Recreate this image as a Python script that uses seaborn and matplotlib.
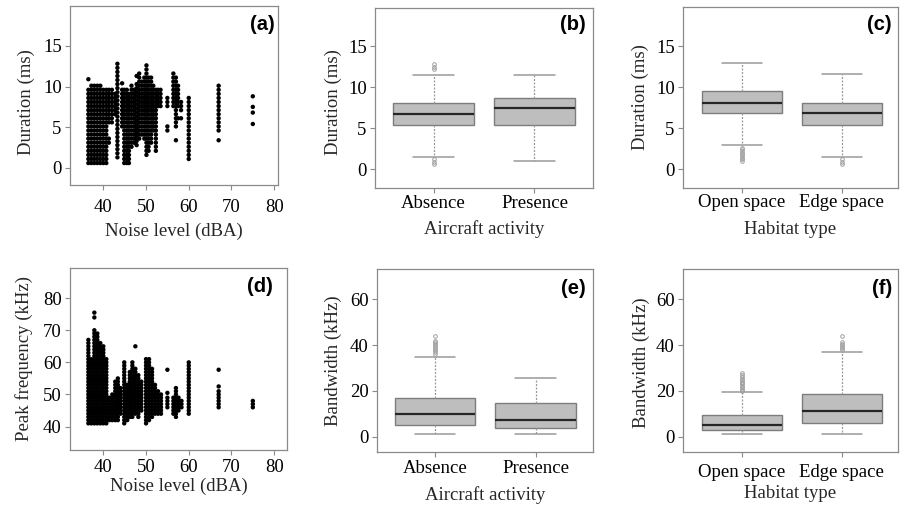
import numpy as np
import pandas as pd
import matplotlib
matplotlib.use("Agg")
import matplotlib.pyplot as plt
import seaborn as sns

# ---------------- data ----------------
# (a) Duration (ms) vs noise level (dBA): one list of durations per noise level
duration_by_noise = {
    36.5: [0.6, 1.1, 1.6, 2.1, 2.6, 3.1, 3.6, 4.1, 4.6, 5.1, 5.6, 6.1, 6.6, 7.1, 7.6, 8.1, 8.6, 9.1, 9.6, 10.9],
    37.2: [0.6, 1.1, 1.6, 2.1, 2.6, 3.1, 3.6, 4.1, 4.6, 5.1, 5.6, 6.1, 6.6, 7.1, 7.6, 8.1, 8.6, 9.1, 9.6, 10.1],
    37.9: [0.6, 1.1, 1.6, 2.1, 2.6, 3.1, 3.6, 4.1, 4.6, 5.1, 5.6, 6.1, 6.6, 7.1, 7.6, 8.1, 8.6, 9.1, 9.6, 10.1],
    38.6: [0.6, 1.1, 1.6, 2.1, 2.6, 3.1, 3.6, 4.1, 4.6, 5.1, 5.6, 6.1, 6.6, 7.1, 7.6, 8.1, 8.6, 9.1, 9.6, 10.1],
    39.3: [0.6, 1.1, 1.6, 2.1, 2.6, 3.1, 3.6, 4.1, 4.6, 5.1, 5.6, 6.1, 6.6, 7.1, 7.6, 8.1, 8.6, 9.1, 9.6, 10.1],
    40.0: [0.6, 1.1, 1.6, 2.1, 2.6, 3.1, 3.6, 4.1, 4.6, 5.1, 5.6, 6.1, 6.6, 7.1, 7.6, 8.1, 8.6, 9.1, 9.6],
    40.7: [0.6, 1.1, 1.6, 2.1, 2.6, 3.1, 3.6, 4.1, 4.6, 5.1, 5.6, 6.1, 6.6, 7.1, 7.6, 8.1, 8.6, 9.1, 9.6],
    41.3: [3.1, 3.6, 5.6, 6.1, 6.6, 7.1, 7.6, 8.1, 8.6, 9.1, 9.6],
    42.0: [5.6, 6.1, 6.6, 7.1, 7.6, 8.1, 8.6, 9.1, 9.6],
    42.7: [6.6, 7.1, 7.6, 8.1, 8.6, 9.1],
    43.3: [1.3, 1.8, 2.3, 2.8, 3.3, 3.8, 4.3, 4.8, 5.3, 5.8, 6.3, 6.8, 7.3, 7.8, 8.3, 8.8, 9.3, 9.8,
           10.3, 10.8, 11.3, 11.8, 12.3, 12.8],
    44.4: [5.1, 5.6, 6.1, 6.6, 7.1, 7.6, 8.1, 8.6, 9.1, 9.6, 10.4],
    44.9: [0.6, 1.1, 1.6, 2.1, 2.6, 3.1, 3.6, 4.1, 4.6, 5.1, 5.6, 6.1, 6.6, 7.1, 7.6, 8.1, 8.6, 9.1, 9.6],
    45.5: [0.6, 1.1, 1.6, 2.1, 2.6, 3.1, 3.6, 4.1, 4.6, 5.1, 5.6, 6.1, 6.6, 7.1, 7.6, 8.1, 8.6, 9.1, 9.6],
    46.0: [0.6, 1.1, 1.6, 2.1, 2.6, 3.1, 3.6, 4.1, 4.6, 5.1, 5.6, 6.1, 6.6, 7.1, 7.6, 8.1, 8.6, 9.1],
    46.6: [2.6, 3.1, 3.6, 4.1, 4.6, 5.1, 5.6, 6.1, 6.6, 7.1, 7.6, 8.1, 8.6, 9.1, 9.6, 10.1],
    47.2: [3.1, 3.6, 4.1, 4.6, 5.1, 5.6, 6.1, 6.6, 7.1, 7.6, 8.1, 8.6, 9.1, 9.6],
    47.8: [2.8, 3.3, 3.8, 4.3, 4.8, 5.3, 5.8, 6.3, 6.8, 7.3, 7.8, 8.3, 8.8, 9.3, 9.8, 10.3, 11.3],
    48.4: [3.6, 4.1, 4.6, 5.1, 5.6, 6.1, 6.6, 7.1, 7.6, 8.1, 8.6, 9.1, 9.6, 10.1, 10.6, 11.1, 11.6],
    49.0: [4.1, 4.6, 5.1, 5.6, 6.1, 6.6, 7.1, 7.6, 8.1, 8.6, 9.1, 9.6, 10.1, 10.6],
    49.6: [3.6, 4.1, 4.6, 5.1, 5.6, 6.1, 6.6, 7.1, 7.6, 8.1, 8.6, 9.1, 9.6, 10.1, 10.6, 11.1],
    50.1: [1.6, 2.1, 2.6, 3.1, 3.6, 4.1, 4.6, 5.1, 5.6, 6.1, 6.6, 7.1, 7.6, 8.1, 8.6, 9.1, 9.6, 10.1,
           10.6, 11.1, 11.6, 12.1, 12.6],
    50.6: [2.1, 2.6, 3.1, 3.6, 4.1, 4.6, 5.1, 5.6, 6.1, 6.6, 7.1, 7.6, 8.1, 8.6, 9.1, 9.6, 10.1, 10.6, 11.1],
    51.2: [3.1, 3.6, 4.1, 4.6, 5.1, 5.6, 6.1, 6.6, 7.1, 7.6, 8.1, 8.6, 9.1, 9.6, 10.1, 10.6, 11.1],
    51.7: [4.6, 5.1, 5.6, 6.1, 6.6, 7.1, 7.6, 8.1, 8.6, 9.1, 9.6, 10.1],
    52.3: [2.1, 2.6, 3.1, 3.6, 4.1, 4.6, 5.1, 5.6, 6.1, 6.6, 7.1, 7.6, 8.1, 8.6, 9.1, 9.6],
    52.8: [7.6, 8.1, 8.6, 9.1, 9.6],
    53.4: [7.6, 8.1, 8.6, 9.1, 9.6],
    55.0: [4.6, 5.1, 7.6, 8.1, 8.6],
    56.4: [7.6, 8.1, 8.6, 9.1, 9.6, 10.1, 10.6, 11.1, 11.6],
    57.0: [3.4, 5.1, 5.6, 6.1, 6.6, 7.1, 7.6, 8.1, 8.6, 9.1, 9.6, 10.1, 10.6, 11.1],
    57.5: [6.1, 7.6, 8.1, 8.6, 9.1, 9.6, 10.1],
    58.2: [6.1, 7.1, 7.6, 8.1],
    60.0: [1.1, 1.6, 2.1, 2.6, 3.1, 3.6, 4.1, 4.6, 5.1, 5.6, 6.1, 6.6, 7.1, 7.6, 8.1, 8.6],
    67.0: [3.4, 4.6, 5.1, 5.6, 6.1, 6.6, 7.1, 7.6, 8.1, 8.6, 9.1, 9.6, 10.1],
    75.0: [5.4, 6.8, 7.5, 8.8],
}

# (d) Peak frequency (kHz) vs noise level (dBA)
peakfreq_by_noise = {
    36.5: [41, 42, 43, 44, 45, 46, 47, 48, 49, 50, 51, 52, 53, 54, 55, 56, 57, 58, 59, 60, 61, 62, 63, 64, 65, 66, 67],
    37.2: [41, 42, 43, 44, 45, 46, 47, 48, 49, 50, 51, 52, 53, 54, 55, 56, 57, 58, 59, 60, 61],
    37.9: [41, 42, 43, 44, 45, 46, 47, 48, 49, 50, 51, 52, 53, 54, 55, 56, 57, 58, 59, 60, 61, 62, 63, 64,
           65, 66, 67, 68, 69, 70, 74, 75.5],
    38.6: [41, 42, 43, 44, 45, 46, 47, 48, 49, 50, 51, 52, 53, 54, 55, 56, 57, 58, 59, 60, 61, 62, 63, 64,
           65, 66, 67, 68, 69],
    39.3: [41, 42, 43, 44, 45, 46, 47, 48, 49, 50, 51, 52, 53, 54, 55, 56, 57, 58, 59, 60, 61, 62, 63, 64, 65, 66],
    40.0: [41, 42, 43, 44, 45, 46, 47, 48, 49, 50, 51, 52, 53, 54, 55, 56, 57, 58, 59, 60, 61, 62, 63, 64, 65],
    40.7: [41, 42, 43, 44, 45, 46, 47, 48, 49, 50, 51, 52, 53, 54, 55, 56, 57, 58, 59, 60, 61],
    41.4: [42, 43, 44, 45, 46, 47, 48, 49],
    42.1: [42, 43, 44, 45, 46, 47, 48, 49, 50],
    42.8: [42, 43, 44, 45, 46, 47, 48, 49, 50, 51, 52, 53, 54],
    43.4: [42, 43, 44, 45, 46, 47, 48, 49, 50, 51, 52, 53, 54, 55],
    44.0: [44, 45, 46, 47, 48, 49, 50, 51, 52],
    44.9: [41, 42, 43, 44, 45, 46, 47, 48, 49, 50, 51, 52, 53, 54, 55, 56, 57, 58, 59, 60],
    45.6: [42, 43, 44, 45, 46, 47, 48, 49, 50, 51, 52, 53],
    46.2: [43, 44, 45, 46, 47, 48, 49, 50, 51, 52, 53, 54, 55, 56, 57],
    46.8: [43, 44, 45, 46, 47, 48, 49, 50, 51, 52, 53, 54, 55, 56, 57, 58, 59, 60],
    47.5: [44, 45, 46, 47, 48, 49, 50, 51, 52, 53, 54, 55, 56, 57, 58, 65],
    48.2: [43, 44, 45, 46, 47, 48, 49, 50, 51, 52, 53, 54, 55, 56],
    48.9: [45, 46, 47, 48, 49, 50, 51, 52, 53, 54],
    50.0: [41, 42, 43, 44, 45, 46, 47, 48, 49, 50, 51, 52, 53, 54, 55, 56, 57, 58, 59, 60, 61],
    50.7: [42, 43, 44, 45, 46, 47, 48, 49, 50, 51, 52, 53, 54, 55, 56, 57, 58, 59, 60, 61],
    51.4: [43, 44, 45, 46, 47, 48, 49, 50, 51, 52, 53, 54, 55, 56, 57, 58],
    52.1: [44, 45, 46, 47, 48, 49, 50, 51, 52, 53],
    52.8: [44, 45, 46, 47, 48, 49, 50, 51],
    53.5: [44, 45, 46, 47, 48, 49, 50],
    55.0: [46, 47, 48, 49, 50.5, 57.7],
    56.4: [44, 45, 46, 47, 48, 49],
    57.0: [43, 44, 45, 46, 47, 48, 49, 50, 51, 52],
    57.6: [45, 46, 47, 48, 49],
    58.3: [46, 47, 48],
    60.0: [44, 45, 46, 47, 48, 49, 50, 51, 52, 53, 54, 55, 56, 57, 58, 59, 60],
    67.0: [46, 47, 48, 49, 50, 51, 52.5, 57.7],
    75.0: [46, 47, 48],
}

# Box plots: five-number summaries (lower whisker, Q1, median, Q3, upper whisker) and outliers
aircraft_levels = ["Absence", "Presence"]
habitat_levels = ["Open space", "Edge space"]

dur_aircraft_box = {"Absence": (1.5, 5.35, 6.75, 8.05, 11.5), "Presence": (1.0, 5.35, 7.5, 8.75, 11.5)}
dur_aircraft_out = {"Absence": [0.6, 0.9, 1.2, 12.2, 12.5, 12.8], "Presence": []}

dur_habitat_box = {"Open space": (3.0, 6.8, 8.1, 9.55, 12.9), "Edge space": (1.5, 5.4, 6.8, 8.1, 11.6)}
dur_habitat_out = {"Open space": [1.0, 1.2, 1.4, 1.6, 1.8, 2.0, 2.2, 2.4, 2.6], "Edge space": [0.6, 0.9, 1.2]}

bw_aircraft_box = {"Absence": (1.0, 5.1, 9.7, 17.0, 34.7), "Presence": (1.0, 3.9, 7.2, 14.8, 25.6)}
bw_aircraft_out = {"Absence": [36.3, 37.0, 37.7, 38.4, 39.1, 39.8, 40.5, 41.2, 41.9, 44.0], "Presence": []}

bw_habitat_box = {"Open space": (1.0, 3.0, 5.1, 9.6, 19.3), "Edge space": (1.0, 6.0, 11.0, 18.5, 37.0)}
bw_habitat_out = {"Open space": [19.8, 20.4, 21.0, 21.6, 22.2, 22.8, 23.4, 24.0, 24.6, 25.2, 26.0, 27.0, 28.0],
                  "Edge space": [37.8, 38.5, 39.2, 39.9, 40.6, 41.3, 44.0]}


# ---------------- helpers ----------------
def columns_frame(cols, yname):
    xs, ys = [], []
    for x, vals in cols.items():
        xs += [x] * len(vals)
        ys += list(vals)
    return pd.DataFrame({"noise": xs, yname: ys})


def box_sample(stats, outliers):
    """Sorted sample whose Tukey box statistics equal the read summary."""
    wlo, q1, med, q3, whi = stats
    lo = sorted(o for o in outliers if o < q1)
    hi = sorted(o for o in outliers if o > q3)
    c = 4 * (len(lo) + len(hi)) + 20
    return lo + [wlo] + [q1] * c + [med] * c + [q3] * c + [whi] + hi


def box_frame(levels, boxes, outs, gname):
    g, v = [], []
    for lev in levels:
        s = box_sample(boxes[lev], outs[lev])
        g += [lev] * len(s)
        v += s
    return pd.DataFrame({gname: g, "value": v})


# ---------------- style ----------------
sns.set_theme(style="white")
plt.rcParams["font.family"] = ["Liberation Serif", "DejaVu Serif"]
FS = 13.5
FRAME = "#8a8a8a"

W, H = 906, 508
fig = plt.figure(figsize=(W / 100, H / 100), dpi=100)


def make_ax(l, r, t, b):
    return fig.add_axes([l / W, 1 - b / H, (r - l) / W, (b - t) / H])


def style_ax(ax, l, r, t, b, xpad, xlab_off, ylab_off, ylab_y, label, lab_dx, lab_dy):
    for sp in ax.spines.values():
        sp.set_visible(True)
        sp.set_color(FRAME)
        sp.set_linewidth(0.9)
    ax.tick_params(axis="both", which="both", direction="out", length=3.5, width=0.8,
                   color=FRAME, labelsize=FS, labelcolor="black")
    ax.tick_params(axis="x", pad=xpad, bottom=True)
    ax.tick_params(axis="y", pad=2.5, left=True)
    for t_ in ax.get_xticklabels() + ax.get_yticklabels():
        t_.set_fontfamily("Liberation Serif")
    wpx, hpx = r - l, b - t
    ax.xaxis.label.set_fontsize(FS)
    ax.yaxis.label.set_fontsize(FS)
    ax.xaxis.label.set_va("center")
    ax.yaxis.label.set_va("center")
    ax.xaxis.set_label_coords(0.5, -xlab_off / hpx)
    ax.yaxis.set_label_coords(-ylab_off / wpx, ylab_y)
    ax.annotate(label, xy=(1, 1), xycoords="axes fraction",
                xytext=(-lab_dx * 0.72, -lab_dy * 0.72), textcoords="offset points",
                ha="right", va="center", fontsize=14.5, fontweight="bold",
                family="Liberation Sans", color="black")


def scatter_panel(ax, df, yname, ylabel, ylim, yticks, xlim):
    sns.scatterplot(data=df, x="noise", y=yname, ax=ax, color="black", s=10,
                    linewidth=0, edgecolor="none", legend=False)
    ax.set_xlim(*xlim)
    ax.set_ylim(*ylim)
    ax.set_xticks([40, 50, 60, 70, 80])
    ax.set_yticks(yticks)
    ax.set_xlabel("Noise level (dBA)")
    ax.set_ylabel(ylabel)


def box_panel(ax, df, gname, order, xlabel, ylabel, ylim, yticks, xlim):
    sns.boxplot(data=df, x=gname, y="value", order=order, ax=ax, color="#bebebe",
                saturation=1, width=0.8, linecolor="#7d7d7d", linewidth=1.0,
                fliersize=2.6,
                whiskerprops=dict(color="#9a9a9a", linestyle=(0, (1.6, 1.2)), linewidth=0.9),
                capprops=dict(color="#9a9a9a", linewidth=1.1),
                medianprops=dict(color="#262626", linewidth=1.6),
                flierprops=dict(marker="o", markerfacecolor="none",
                                markeredgecolor="#a0a0a0", markeredgewidth=0.7))
    ax.set_xlim(*xlim)
    ax.set_ylim(*ylim)
    ax.set_yticks(yticks)
    ax.set_xlabel(xlabel)
    ax.set_ylabel(ylabel)


# ---------------- panels ----------------
df_a = columns_frame(duration_by_noise, "duration")
df_d = columns_frame(peakfreq_by_noise, "peak")
df_b = box_frame(aircraft_levels, dur_aircraft_box, dur_aircraft_out, "aircraft")
df_c = box_frame(habitat_levels, dur_habitat_box, dur_habitat_out, "habitat")
df_e = box_frame(aircraft_levels, bw_aircraft_box, bw_aircraft_out, "aircraft")
df_f = box_frame(habitat_levels, bw_habitat_box, bw_habitat_out, "habitat")

# (a)
geo = (70, 278, 6, 185)
ax = make_ax(*geo)
scatter_panel(ax, df_a, "duration", "Duration (ms)", (-2.1, 19.9), [0, 5, 10, 15], (32.2, 80.9))
style_ax(ax, *geo, xpad=6.3, xlab_off=46, ylab_off=44, ylab_y=0.465, label="(a)", lab_dx=3, lab_dy=19)

# (b)
geo = (375, 593, 8, 188)
ax = make_ax(*geo)
box_panel(ax, df_b, "aircraft", aircraft_levels, "Aircraft activity", "Duration (ms)",
          (-2.3, 19.7), [0, 5, 10, 15], (-0.58, 1.58))
style_ax(ax, *geo, xpad=1.8, xlab_off=41, ylab_off=41.5, ylab_y=0.475, label="(b)", lab_dx=7, lab_dy=17)

# (c)
geo = (683, 898, 7, 188)
ax = make_ax(*geo)
box_panel(ax, df_c, "habitat", habitat_levels, "Habitat type", "Duration (ms)",
          (-2.3, 19.76), [0, 5, 10, 15], (-0.587, 1.563))
style_ax(ax, *geo, xpad=1.0, xlab_off=41, ylab_off=43, ylab_y=0.505, label="(c)", lab_dx=6, lab_dy=18)

# (d)
geo = (70, 287, 268, 450)
ax = make_ax(*geo)
scatter_panel(ax, df_d, "peak", "Peak frequency (kHz)", (32.7, 89.4), [40, 50, 60, 70, 80], (32.2, 83.0))
style_ax(ax, *geo, xpad=2.7, xlab_off=36, ylab_off=46, ylab_y=0.503, label="(d)", lab_dx=14, lab_dy=19)

# (e)
geo = (377, 593, 269, 452)
ax = make_ax(*geo)
box_panel(ax, df_e, "aircraft", aircraft_levels, "Aircraft activity", "Bandwidth (kHz)",
          (-6.7, 73.2), [0, 20, 40, 60], (-0.576, 1.57))
style_ax(ax, *geo, xpad=2.2, xlab_off=43, ylab_off=44, ylab_y=0.5, label="(e)", lab_dx=7, lab_dy=19)

# (f)
geo = (683, 898, 269, 452)
ax = make_ax(*geo)
box_panel(ax, df_f, "habitat", habitat_levels, "Habitat type", "Bandwidth (kHz)",
          (-6.7, 73.2), [0, 20, 40, 60], (-0.587, 1.563))
style_ax(ax, *geo, xpad=5.0, xlab_off=41, ylab_off=41.3, ylab_y=0.486, label="(f)", lab_dx=6, lab_dy=19)

fig.savefig("out.png", dpi=100, facecolor="white")
